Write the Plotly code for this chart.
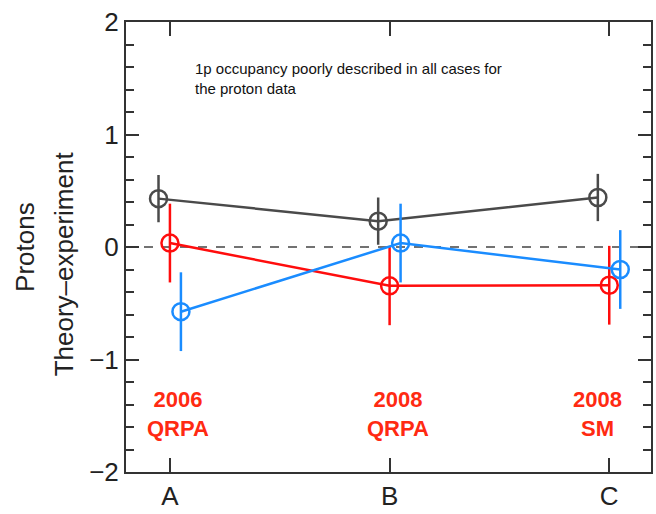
import plotly.graph_objects as go

categories = ["A", "B", "C"]
cat_pos = [1, 2, 3]

gray_vals = [0.43, 0.23, 0.44]
gray_err = [0.21, 0.21, 0.21]
red_vals = [0.035, -0.345, -0.34]
red_err = [0.35, 0.35, 0.35]
blue_vals = [-0.575, 0.035, -0.2]
blue_err = [0.35, 0.35, 0.35]

labels_year = ["2006", "2008", "2008"]
labels_method = ["QRPA", "QRPA", "SM"]

series = [
    ("gray", gray_vals, gray_err, "#4a4a4a", -0.052),
    ("red", red_vals, red_err, "#ff0d0d", 0.0),
    ("blue", blue_vals, blue_err, "#1a8cff", 0.05),
]

fig = go.Figure()
for name, vals, errs, col, off in series:
    fig.add_trace(go.Scatter(
        x=[p + off for p in cat_pos], y=vals, mode="lines+markers", name=name,
        line=dict(color=col, width=2.5),
        marker=dict(symbol="circle-open", size=17, color=col, line=dict(width=2.5, color=col)),
        error_y=dict(type="data", array=errs, visible=True, color=col, thickness=2.5, width=0),
        showlegend=False,
    ))

fig.add_shape(type="line", xref="paper", yref="y", x0=0, x1=1, y0=0, y1=0,
              line=dict(color="#444444", width=1.5, dash="dash"), layer="below")

label_shift = [8, 8, -12]
for p, yr, m, sh in zip(cat_pos, labels_year, labels_method, label_shift):
    fig.add_annotation(x=p, y=-1.48, xshift=sh, text=f"<b>{yr}<br>{m}</b>", showarrow=False,
                       font=dict(family="Liberation Sans, Arial", size=22, color="#ff2a12"),
                       align="center", yanchor="middle")

fig.add_annotation(xref="paper", yref="paper", x=0.127, y=0.92, xanchor="left", yanchor="top",
                   text="1p occupancy poorly described in all cases for<br>the proton data",
                   showarrow=False, align="left",
                   font=dict(family="Liberation Sans, Arial", size=15, color="#111111"))

fig.add_annotation(xref="paper", yref="paper", x=-0.225, y=0.5, textangle=-90,
                   text="Protons", showarrow=False,
                   font=dict(family="Liberation Sans, Arial", size=26, color="#222222"))
fig.add_annotation(xref="paper", yref="paper", x=-0.15, y=0.462, textangle=-90,
                   text="Theory\u2013experiment", showarrow=False,
                   font=dict(family="Liberation Sans, Arial", size=26, color="#222222"))

fig.update_layout(
    width=656, height=514,
    margin=dict(l=126, r=3, t=22, b=40),
    paper_bgcolor="white", plot_bgcolor="white",
    font=dict(family="Liberation Sans, Arial", color="#222222"),
)
fig.update_xaxes(
    range=[0.8, 3.19], tickvals=cat_pos, ticktext=categories,
    ticks="inside", ticklen=14, tickwidth=1.5, tickcolor="#333333",
    showline=True, linecolor="#333333", linewidth=2, mirror="ticks",
    showgrid=False, zeroline=False, tickfont=dict(size=26, color="#222222"),
)
fig.update_yaxes(
    range=[-2, 2], tickvals=[-2, -1, 0, 1, 2], ticktext=["\u22122", "\u22121", "0", "1", "2"],
    ticks="inside", ticklen=13, tickwidth=1.5, tickcolor="#333333",
    minor=dict(dtick=0.2, ticks="inside", ticklen=8, tickwidth=1.5, tickcolor="#333333", showgrid=False),
    showline=True, linecolor="#333333", linewidth=2, mirror="ticks",
    showgrid=False, zeroline=False, tickfont=dict(size=26, color="#222222"),
)

fig.write_html("out.html")
